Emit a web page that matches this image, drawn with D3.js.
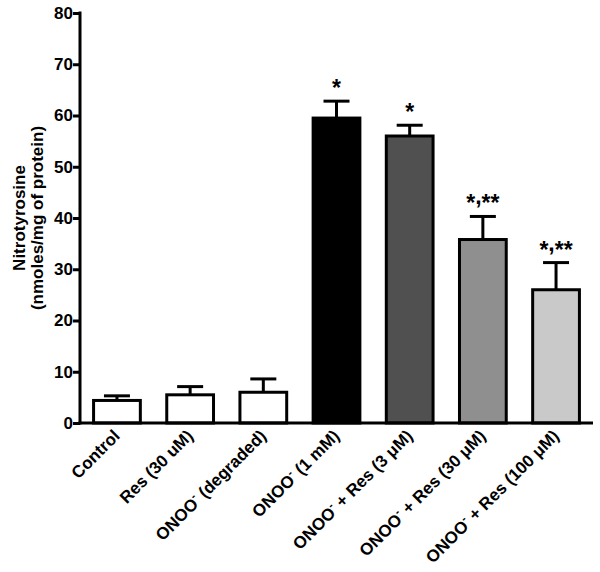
<!DOCTYPE html>
<html><head><meta charset="utf-8">
<script src="https://cdn.jsdelivr.net/npm/d3@7"></script>
<style>body{margin:0;background:#fff}text{font-family:"Liberation Sans",Arial,sans-serif;font-weight:bold}</style>
</head><body><svg id="c" width="600" height="572"></svg>
<script>
const categories = [
  {pre:"Control", sup:"", post:""},
  {pre:"Res (30 uM)", sup:"", post:""},
  {pre:"ONOO", sup:"-", post:" (degraded)"},
  {pre:"ONOO", sup:"-", post:" (1 mM)"},
  {pre:"ONOO", sup:"-", post:" + Res (3 \u03BCM)"},
  {pre:"ONOO", sup:"-", post:" + Res (30 \u03BCM)"},
  {pre:"ONOO", sup:"-", post:" + Res (100 \u03BCM)"}
];
const values = [4.4, 5.5, 6.0, 59.5, 56.0, 35.8, 26.0];
const errors = [0.9, 1.6, 2.6, 3.3, 2.1, 4.5, 5.3];
const fills = ["#ffffff","#ffffff","#ffffff","#000000","#505050","#8f8f8f","#c9c9c9"];
const sigLabels = ["","","","*","*","*,**","*,**"];
const yTicks = [0,10,20,30,40,50,60,70,80];

const svg = d3.select("#c");
const x0 = 80, x1 = 593, yTop = 13, yBot = 423;
const x = d3.scaleBand().domain(d3.range(categories.length)).range([x0, x1]).paddingInner(0.32).paddingOuter(0.165);
const y = d3.scaleLinear().domain([0,80]).range([yBot, yTop]);

svg.append("g").selectAll("rect").data(values).join("rect")
  .attr("x", (d,i)=>x(i)+1.5).attr("width", x.bandwidth()-3)
  .attr("y", d=>y(d)).attr("height", d=>yBot-y(d))
  .attr("fill", (d,i)=>fills[i]).attr("stroke","#000").attr("stroke-width",3);

const eb = svg.append("g").attr("stroke","#000").attr("stroke-width",3);
values.forEach((v,i)=>{
  const cx = x(i)+x.bandwidth()/2;
  eb.append("line").attr("x1",cx).attr("x2",cx).attr("y1",y(v)).attr("y2",y(v+errors[i]));
  eb.append("line").attr("x1",cx-13).attr("x2",cx+13).attr("y1",y(v+errors[i])).attr("y2",y(v+errors[i]));
});

const sig = svg.append("g").selectAll("text").data(sigLabels).join("text")
  .attr("x",(d,i)=>x(i)+x.bandwidth()/2).attr("y",(d,i)=>y(values[i]+errors[i])-5)
  .attr("text-anchor","middle").attr("font-size",23);
sig.each(function(d){
  const t = d3.select(this);
  const parts = d.split(",");
  parts.forEach((p,k)=>{
    if(k>0) t.append("tspan").attr("dy",-7).text(",");
    t.append("tspan").attr("dy", k>0?7:0).text(p);
  });
});

const ya = svg.append("g").attr("transform",`translate(${x0},0)`)
  .call(d3.axisLeft(y).tickValues(yTicks).tickSize(7).tickSizeOuter(0));
ya.select(".domain").attr("stroke-width",3).attr("d",`M0,${yTop-1.5}V${yBot+1.5}`);
ya.selectAll(".tick line").attr("stroke-width",3);
ya.selectAll(".tick text").attr("font-size",17).attr("font-family","Liberation Sans, Arial, sans-serif").attr("font-weight","bold").attr("x",-7);

svg.append("line").attr("x1",x0-1.5).attr("x2",x1).attr("y1",yBot).attr("y2",yBot).attr("stroke","#000").attr("stroke-width",3);

const xl = svg.append("g").selectAll("text").data(categories).join("text")
  .attr("transform",(d,i)=>`translate(${x(i)+x.bandwidth()/2+4},${yBot+14}) rotate(-45)`)
  .attr("text-anchor","end").attr("font-size",17);
xl.each(function(d){
  const t = d3.select(this);
  t.append("tspan").text(d.pre);
  if(d.sup) t.append("tspan").attr("dy",-7).attr("font-size",11).text(d.sup);
  if(d.post) t.append("tspan").attr("dy", d.sup?7:0).text(d.post);
});

const yl = svg.append("text").attr("transform","translate(27,218) rotate(-90)").attr("text-anchor","middle").attr("font-size",17);
yl.append("tspan").attr("x",0).attr("dy",-2).text("Nitrotyrosine");
yl.append("tspan").attr("x",0).attr("dy",18).text("(nmoles/mg of protein)");
</script></body></html>
